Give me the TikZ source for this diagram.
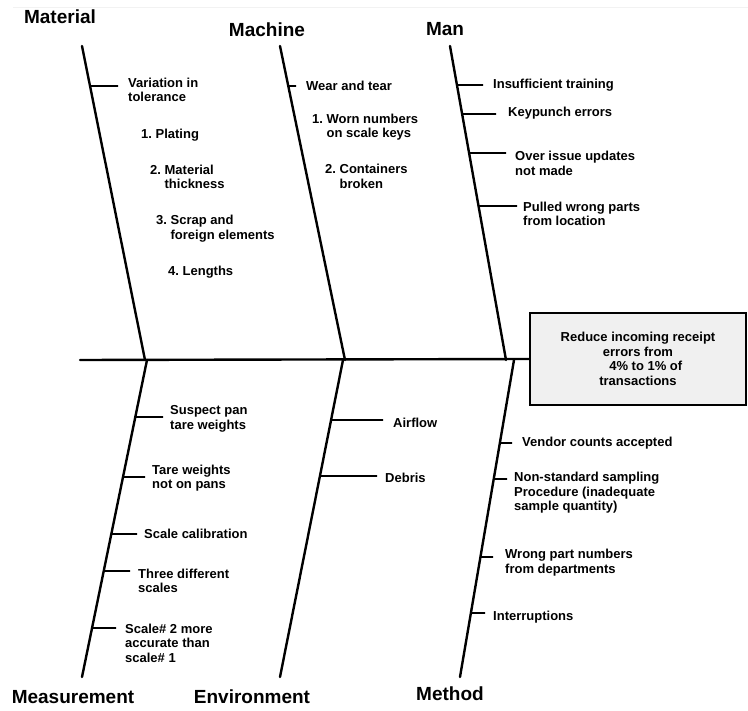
\documentclass[tikz,border=0pt]{standalone}
\usepackage{fontspec}
\setmainfont{Liberation Sans}
\frenchspacing
\begin{document}
\begin{tikzpicture}[x=1pt,y=-1pt,
  bone/.style={line width=2.4pt, line cap=round},
  twig/.style={line width=1.9pt},
  cause/.style={anchor=west, inner sep=0pt, align=left,
    font=\fontsize{13}{14.5}\selectfont\bfseries},
  head/.style={inner sep=0pt, font=\fontsize{19}{22}\selectfont\bfseries},
  goalbox/.style={draw, line width=2pt, fill=gray!12, inner sep=0pt,
    minimum width=216pt, minimum height=92pt, align=center,
    font=\fontsize{13}{14.5}\selectfont\bfseries},
]
\useasboundingbox (0,0) rectangle (748,711);

% a small horizontal twig leaving a bone at height #4 and ending at x = #5
\newcommand\fbtwig[5]{%
  \coordinate (#1a) at (intersection of #2--#3 and 0,#4--10,#4);
  \coordinate (#1b) at (#5,#4);
  \draw[twig] (#1a) -- (#1b);}

% faint rule along the top edge
\coordinate (ruleL) at (13,8);
\coordinate (ruleR) at (748,8);
\draw[gray!10, line width=1pt] (ruleL) -- (ruleR);

% effect box and spine
\node[goalbox] (goal) at (638,359)
  {Reduce incoming receipt\\errors from\\\hspace*{1.2em}4\% to 1\% of\\transactions};
\coordinate (tail) at (80,360);
\draw[bone] (tail) -- (goal.west);

% bone end points
\coordinate (matTop) at (82,46);   \coordinate (matJoin) at (145,360);
\coordinate (macTop) at (280,46);  \coordinate (macJoin) at (345,360);
\coordinate (manTop) at (450,46);  \coordinate (manJoin) at (506,360);
\coordinate (meaBot) at (82,677);  \coordinate (meaJoin) at (147,360);
\coordinate (envBot) at (280,677); \coordinate (envJoin) at (343,360);
\coordinate (metBot) at (460,677); \coordinate (metJoin) at (514,360);

\draw[bone] (matTop) -- (matJoin);
\draw[bone] (macTop) -- (macJoin);
\draw[bone] (manTop) -- (manJoin);
\draw[bone] (meaBot) -- (meaJoin);
\draw[bone] (envBot) -- (envJoin);
\draw[bone] (metBot) -- (metJoin);

% category headings
\node[head] (hMat) at (60,17) {Material};
\node[head] (hMac) at (267,30) {Machine};
\node[head] (hMan) at (445,29) {Man};
\node[head] (hMea) at (73,697) {Measurement};
\node[head] (hEnv) at (252,697) {Environment};
\node[head] (hMet) at (450,694) {Method};

% Material
\fbtwig{tMat1}{matTop}{matJoin}{86}{118}
\node[cause] (cMat1) at (128,90) {Variation in\\tolerance};
\node[cause] (cMat2) at (141,135) {1. Plating};
\node[cause] (cMat3) at (150,177) {2. Material\\\phantom{2. }thickness};
\node[cause] (cMat4) at (156,228.5) {3. Scrap and\\\phantom{3. }foreign elements};
\node[cause] (cMat5) at (168,272) {4. Lengths};

% Machine
\fbtwig{tMac1}{macTop}{macJoin}{86}{296}
\node[cause] (cMac1) at (306,86) {Wear and tear};
\node[cause] (cMac2) at (312,127) {1. Worn numbers\\\phantom{1. }on scale keys};
\node[cause] (cMac3) at (325,176.5) {2. Containers\\\phantom{2. }broken};

% Man
\fbtwig{tMan1}{manTop}{manJoin}{85}{483}
\node[cause] (cMan1) at (493,85) {Insufficient training};
\fbtwig{tMan2}{manTop}{manJoin}{114}{496}
\node[cause] (cMan2) at (508,113) {Keypunch errors};
\fbtwig{tMan3}{manTop}{manJoin}{153}{506}
\node[cause] (cMan3) at (515,163.5) {Over issue updates\\not made};
\fbtwig{tMan4}{manTop}{manJoin}{206}{517}
\node[cause] (cMan4) at (523,214) {Pulled wrong parts\\from location};

% Measurement
\fbtwig{tMea1}{meaBot}{meaJoin}{417}{163}
\node[cause] (cMea1) at (170,419) {Suspect pan\\tare weights};
\fbtwig{tMea2}{meaBot}{meaJoin}{477}{145}
\node[cause] (cMea2) at (152,478) {Tare weights\\not on pans};
\fbtwig{tMea3}{meaBot}{meaJoin}{534}{137}
\node[cause] (cMea3) at (144,534) {Scale calibration};
\fbtwig{tMea4}{meaBot}{meaJoin}{571}{130}
\node[cause] (cMea4) at (138,581) {Three different\\scales};
\fbtwig{tMea5}{meaBot}{meaJoin}{628}{116}
\node[cause] (cMea5) at (125,643) {Scale\# 2 more\\accurate than\\scale\# 1};

% Environment
\fbtwig{tEnv1}{envBot}{envJoin}{420}{383}
\node[cause] (cEnv1) at (393,423) {Airflow};
\fbtwig{tEnv2}{envBot}{envJoin}{476}{377}
\node[cause] (cEnv2) at (385,478) {Debris};

% Method
\fbtwig{tMet1}{metBot}{metJoin}{443}{512}
\node[cause] (cMet1) at (522,443) {Vendor counts accepted};
\fbtwig{tMet2}{metBot}{metJoin}{479}{507}
\node[cause] (cMet2) at (514,493) {Non-standard sampling\\Procedure (inadequate\\sample quantity)};
\fbtwig{tMet3}{metBot}{metJoin}{557}{493}
\node[cause] (cMet3) at (505,562.5) {Wrong part numbers\\from departments};
\fbtwig{tMet4}{metBot}{metJoin}{613}{485}
\node[cause] (cMet4) at (493,617) {Interruptions};
\end{tikzpicture}
\end{document}
